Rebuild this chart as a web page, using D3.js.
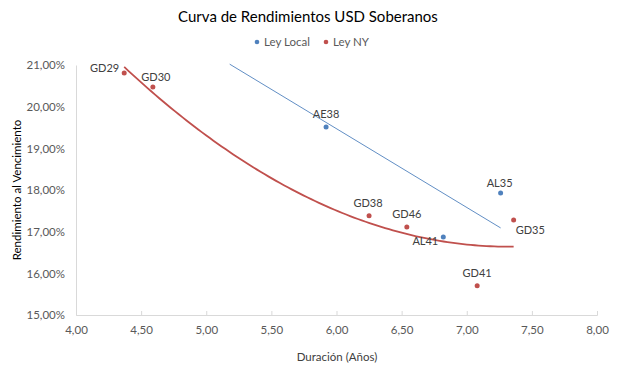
<!DOCTYPE html>
<html><head><meta charset="utf-8">
<script src="https://cdn.jsdelivr.net/npm/d3@7"></script>
<style>body{margin:0;background:#fff;}svg{display:block;font-family:Lato,"Open Sans",sans-serif;}</style>
</head><body>
<svg id="chart" width="617" height="367"></svg>
<script>
// ---- data ----
const localNames = ["AE38", "AL35", "AL41"];
const localDur   = [5.92, 7.26, 6.82];
const localYield = [19.51, 17.93, 16.87];

const nyNames = ["GD29", "GD30", "GD38", "GD46", "GD41", "GD35"];
const nyDur   = [4.37, 4.59, 6.25, 6.54, 7.08, 7.36];
const nyYield = [20.81, 20.47, 17.38, 17.11, 15.70, 17.28];

// linear trend (Ley Local) endpoints
const localTrendDur   = [5.18, 7.26];
const localTrendYield = [21.02, 17.09];

const xTicks = [4, 4.5, 5, 5.5, 6, 6.5, 7, 7.5, 8];
const yTicks = [15, 16, 17, 18, 19, 20, 21];
const seriesNames = ["Ley Local", "Ley NY"];

// ---- layout / style ----
const colors = {"Ley Local": "#4f81bd", "Ley NY": "#c0504d"};
const labelPos = {
  GD29: {dx: -5, dy: -5, a: "end"},
  GD30: {dx: 3, dy: -10, a: "middle"},
  AE38: {dx: 0, dy: -13, a: "middle"},
  AL35: {dx: -1, dy: -10, a: "middle"},
  GD35: {dx: 2, dy: 10, a: "start"},
  GD38: {dx: -1, dy: -13, a: "middle"},
  GD46: {dx: 0, dy: -13, a: "middle"},
  AL41: {dx: -18, dy: 4, a: "middle"},
  GD41: {dx: 0, dy: -13, a: "middle"}
};

const svg = d3.select("#chart");
const x = d3.scaleLinear().domain([4, 8]).range([76, 597]);
const y = d3.scaleLinear().domain([15, 21]).range([315, 65]);
const fmt = d3.formatLocale({decimal: ",", thousands: ".", grouping: [3], currency: ["", ""]});
const f2 = fmt.format(".2f");

// title
svg.append("text").attr("x", 308).attr("y", 22).attr("text-anchor", "middle")
  .attr("font-size", 15).attr("fill", "#000").text("Curva de Rendimientos USD Soberanos");

// legend
const leg = [{n: seriesNames[0], x: 257}, {n: seriesNames[1], x: 326}];
leg.forEach(l => {
  svg.append("circle").attr("cx", l.x).attr("cy", 42).attr("r", 2.3).attr("fill", colors[l.n]);
  svg.append("text").attr("x", l.x + 7).attr("y", 46).attr("font-size", 11.5).attr("fill", "#595959").text(l.n);
});

// axes
const xAxis = svg.append("g").attr("transform", "translate(0,315)")
  .call(d3.axisBottom(x).tickValues(xTicks).tickFormat(f2).tickSize(-4).tickPadding(11));
xAxis.select(".domain").attr("stroke", "#d9d9d9");
xAxis.selectAll(".tick line").attr("stroke", "#d9d9d9");
xAxis.selectAll("text").attr("font-size", 11.5).attr("fill", "#595959").attr("font-family", "Lato");

const yAxis = svg.append("g").attr("transform", "translate(76,0)")
  .call(d3.axisLeft(y).tickValues(yTicks).tickFormat(d => f2(d) + "%").tickSize(0).tickPadding(11));
yAxis.select(".domain").attr("stroke", "#d9d9d9");
yAxis.selectAll("text").attr("font-size", 11.5).attr("fill", "#595959").attr("font-family", "Lato");

// axis titles
svg.append("text").attr("x", 337).attr("y", 361).attr("text-anchor", "middle")
  .attr("font-size", 11.5).attr("fill", "#404040").text("Duración (Años)");
svg.append("text").attr("transform", "translate(21,190) rotate(-90)").attr("text-anchor", "middle")
  .attr("font-size", 11.5).attr("fill", "#000").text("Rendimiento al Vencimiento");

// polynomial (order 2) least squares trend for Ley NY
function quadFit(xs, ys) {
  const n = xs.length;
  let S = [0,0,0,0,0], T = [0,0,0];
  for (let i = 0; i < n; i++) {
    for (let k = 0; k < 5; k++) S[k] += Math.pow(xs[i], k);
    for (let k = 0; k < 3; k++) T[k] += ys[i] * Math.pow(xs[i], k);
  }
  const M = [[S[0],S[1],S[2],T[0]],[S[1],S[2],S[3],T[1]],[S[2],S[3],S[4],T[2]]];
  for (let c = 0; c < 3; c++) {
    for (let r = c + 1; r < 3; r++) {
      const f = M[r][c] / M[c][c];
      for (let k = c; k < 4; k++) M[r][k] -= f * M[c][k];
    }
  }
  const sol = [0,0,0];
  for (let r = 2; r >= 0; r--) {
    let s = M[r][3];
    for (let k = r + 1; k < 3; k++) s -= M[r][k] * sol[k];
    sol[r] = s / M[r][r];
  }
  return sol;
}
const co = quadFit(nyDur, nyYield);
const xmin = d3.min(nyDur), xmax = d3.max(nyDur);
const curve = d3.range(0, 101).map(i => {
  const xv = xmin + (xmax - xmin) * i / 100;
  return [xv, co[0] + co[1] * xv + co[2] * xv * xv];
});
const line = d3.line().x(d => x(d[0])).y(d => y(d[1]));
svg.append("path").datum(curve).attr("d", line).attr("fill", "none")
  .attr("stroke", colors["Ley NY"]).attr("stroke-width", 1.8);

svg.append("path").datum(localTrendDur.map((d, i) => [d, localTrendYield[i]]))
  .attr("d", line).attr("fill", "none").attr("stroke", colors["Ley Local"]).attr("stroke-width", 0.9);

// points + labels
function drawSeries(names, durs, ylds, col) {
  names.forEach((n, i) => {
    const cx = x(durs[i]), cy = y(ylds[i]);
    svg.append("circle").attr("cx", cx).attr("cy", cy).attr("r", 2.5).attr("fill", col);
    const p = labelPos[n];
    svg.append("text").attr("x", cx + p.dx).attr("y", cy + p.dy + 4)
      .attr("text-anchor", p.a).attr("font-size", 11).attr("fill", "#404040").text(n);
  });
}
drawSeries(localNames, localDur, localYield, colors["Ley Local"]);
drawSeries(nyNames, nyDur, nyYield, colors["Ley NY"]);
</script>
</body></html>
